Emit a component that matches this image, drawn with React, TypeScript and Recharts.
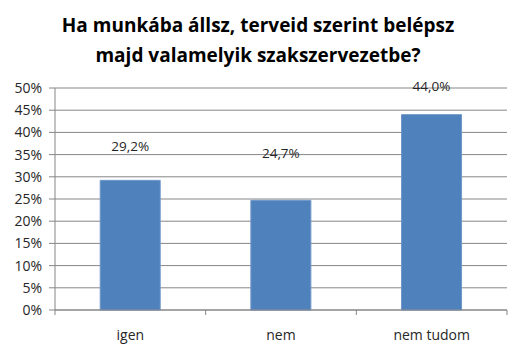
import { BarChart, Bar, XAxis, YAxis, CartesianGrid, LabelList } from 'recharts'

const categories = ['igen', 'nem', 'nem tudom']
const values = [29.2, 24.7, 44.0]
const yTicks = [0, 5, 10, 15, 20, 25, 30, 35, 40, 45, 50]

const data = categories.map((name, i) => ({ name, value: values[i] }))

const FONT = "'Open Sans', sans-serif"
const AXIS = '#868686'

// Excel placed the value labels a bit unevenly above the bars
const labelGap = [33, 46, 27]

const ValueLabel = (props: any) => {
  const { x, y, width, value, index } = props
  return (
    <text
      x={x + width / 2}
      y={y - labelGap[index]}
      textAnchor="middle"
      dominantBaseline="middle"
      fontSize={13.5}
      fill="#262626"
      fontFamily={FONT}
    >
      {Number(value).toFixed(1).replace('.', ',')}%
    </text>
  )
}

// category label plus the tick marks between categories
const CategoryTick = (props: any) => {
  const { x, y, payload, index } = props
  const half = payload.offset || 0
  const axisY = y - 20
  return (
    <g>
      {index === 0 && <line x1={x - half} x2={x - half} y1={axisY} y2={axisY + 5} stroke={AXIS} />}
      <line x1={x + half} x2={x + half} y1={axisY} y2={axisY + 5} stroke={AXIS} />
      <text x={x} y={y} dy="0.71em" textAnchor="middle" fontSize={14} fill="#262626" fontFamily={FONT}>
        {payload.value}
      </text>
    </g>
  )
}

export default function App() {
  return (
    <div style={{ position: 'absolute', left: 0, top: 0, width: 516, height: 363, background: '#fff' }}>
      <div
        style={{
          position: 'absolute', left: 0, top: 10, width: 516, textAlign: 'center',
          fontFamily: FONT, fontWeight: 700, fontSize: 19,
          lineHeight: '30px', color: '#000'
        }}
      >
        Ha munkába állsz, terveid szerint belépsz<br />majd valamelyik szakszervezetbe?
      </div>
      <BarChart
        width={516}
        height={363}
        data={data}
        margin={{ top: 88, right: 9, bottom: 0, left: 0 }}
        barCategoryGap="30%"
      >
        <CartesianGrid vertical={false} stroke={AXIS} strokeWidth={1} />
        <XAxis
          dataKey="name"
          height={53}
          axisLine={{ stroke: AXIS }}
          tickLine={false}
          tickSize={0}
          tick={<CategoryTick />}
          tickMargin={20}
        />
        <YAxis
          width={55}
          domain={[0, 50]}
          ticks={yTicks}
          interval={0}
          axisLine={{ stroke: AXIS }}
          tickLine={{ stroke: AXIS }}
          tickSize={6}
          tickMargin={7}
          tickFormatter={(v) => `${v}%`}
          tick={{ fill: '#262626', fontSize: 14, fontFamily: FONT }}
        />
        <Bar dataKey="value" fill="#4F81BD" stroke="#6f97c8" strokeWidth={1} isAnimationActive={false}>
          <LabelList dataKey="value" content={<ValueLabel />} />
        </Bar>
      </BarChart>
    </div>
  )
}
